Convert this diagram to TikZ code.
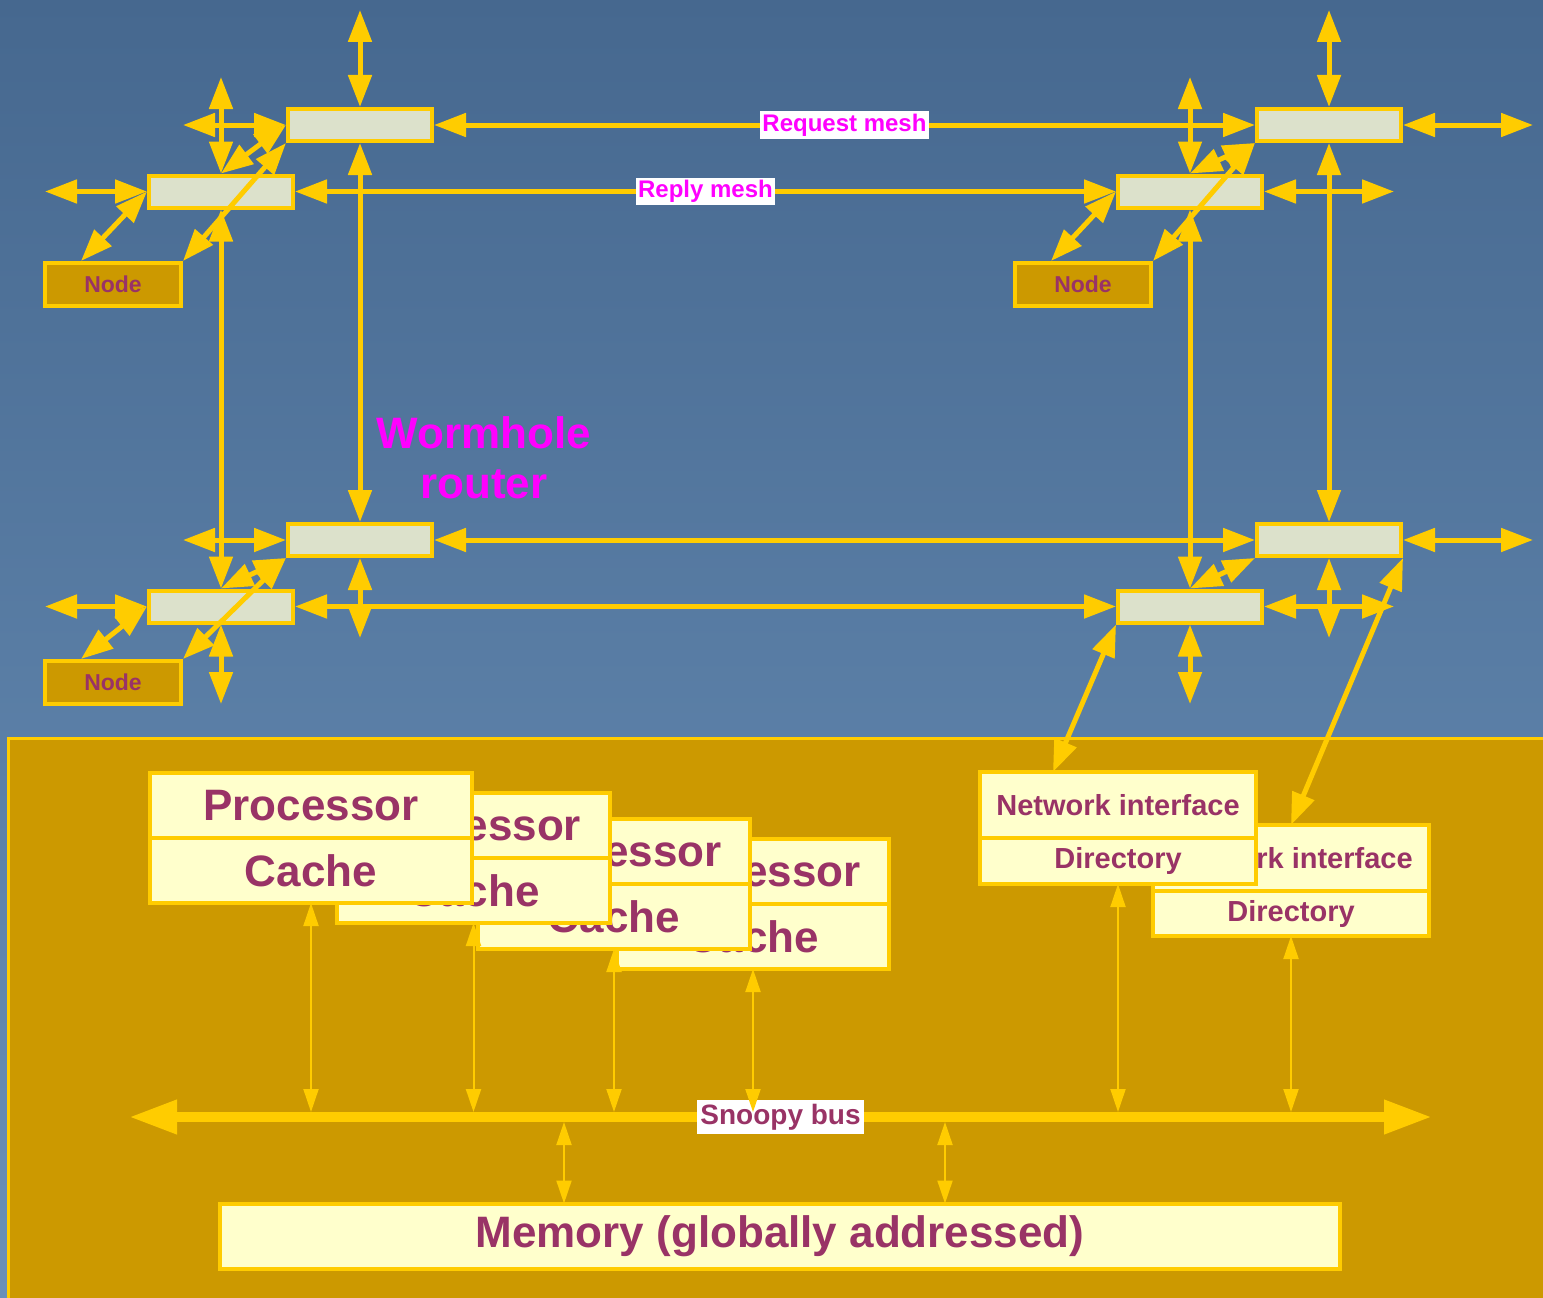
\documentclass[tikz,border=0pt]{standalone}
\usepackage{fontspec}
\setmainfont{Liberation Sans}
\usetikzlibrary{arrows.meta,calc}

\definecolor{meshyellow}{HTML}{FFCC00}
\definecolor{routerfill}{HTML}{DCE1CB}
\definecolor{nodefill}{HTML}{CC9900}
\definecolor{boxfill}{HTML}{FFFFCC}
\definecolor{textpurple}{HTML}{993366}
\definecolor{labelpink}{HTML}{FF00FF}
\definecolor{bgtop}{HTML}{46688F}
\definecolor{bgbottom}{HTML}{6A90B8}

\tikzset{
	router/.style = {draw = meshyellow, line width = 4pt, fill = routerfill, minimum width = 144pt, minimum height = 32pt, inner sep = 0pt},
	endnode/.style = {draw = meshyellow, line width = 4pt, fill = nodefill, minimum width = 136pt, minimum height = 43pt, inner sep = 0pt, text = textpurple, font = \fontsize{23}{26}\selectfont\bfseries},
	cpart/.style = {draw = meshyellow, line width = 4pt, fill = boxfill, minimum width = #1, minimum height = 65pt, inner sep = 0pt, outer sep = 0pt, text = textpurple, font = \fontsize{44}{48}\selectfont\bfseries},
	npart/.style = {draw = meshyellow, line width = 4pt, fill = boxfill, minimum width = 276pt, inner sep = 0pt, outer sep = 0pt, text = textpurple, font = \fontsize{29}{32}\selectfont\bfseries},
	mesh/.style = {draw = meshyellow, line width = 5pt, {Triangle[length = 32pt, width = 23pt]}-{Triangle[length = 32pt, width = 23pt]}},
	busarrow/.style = {draw = meshyellow, line width = 2pt, {Triangle[length = 23pt, width = 15pt]}-{Triangle[length = 23pt, width = 15pt]}},
	meshlabel/.style = {fill = white, text = labelpink, inner sep = 2.5pt, font = \fontsize{24}{26}\selectfont\bfseries}
}

\begin{document}
\begin{tikzpicture} [x = 1pt, y = -1pt]
	\useasboundingbox (0,0) rectangle (1543,1298);
	\shade [top color = bgtop, bottom color = bgbottom] (0,0) rectangle (1543,1298);
	\draw [fill = nodefill, draw = meshyellow, line width = 3pt] (8,738) rectangle (1560,1310);

	% processor stack, back to front
	\node [cpart = 272pt] (proc4) at (753,871.5) {Processor};
	\node [cpart = 272pt, anchor = north] (cache4) at (proc4.south) {Cache};
	\node [cpart = 272pt] (proc3) at (614,851.5) {Processor};
	\node [cpart = 272pt, anchor = north] (cache3) at (proc3.south) {Cache};
	\node [cpart = 273pt] (proc2) at (473.5,825.5) {Processor};
	\node [cpart = 273pt, anchor = north] (cache2) at (proc2.south) {Cache};
	\node [cpart = 322pt] (proc1) at (311,805.5) {Processor};
	\node [cpart = 322pt, anchor = north] (cache1) at (proc1.south) {Cache};

	\node [npart, minimum height = 66pt] (ni2) at (1291,858) {Network interface};
	\node [npart, minimum height = 45pt, anchor = north] (dir2) at (ni2.south) {Directory};
	\node [npart, minimum height = 66pt] (ni1) at (1118,805) {Network interface};
	\node [npart, minimum height = 46pt, anchor = north] (dir1) at (ni1.south) {Directory};

	\node [cpart = 1120pt] (mem) at (780,1236) {Memory (globally addressed)};

	\coordinate (busL) at (129,1117);
	\coordinate (busR) at (1432,1117);
	\draw [draw = meshyellow, line width = 10pt, {Triangle[length = 48pt, width = 32pt]}-{Triangle[length = 48pt, width = 32pt]}] (busL) -- (busR) node [midway, fill = white, text = textpurple, inner sep = 3.5pt, font = \fontsize{28}{30}\selectfont\bfseries] (buslabel) {Snoopy bus};

	\coordinate (bustop) at (0,1112);
	\coordinate (memtapA) at (564,1122);
	\coordinate (memtapB) at (945,1122);
	\draw [busarrow] (cache1.south) -- (cache1.south |- bustop);
	\draw [busarrow] (cache2.south) -- (cache2.south |- bustop);
	\draw [busarrow] (cache3.south) -- (cache3.south |- bustop);
	\draw [busarrow] (cache4.south) -- (cache4.south |- bustop);
	\draw [busarrow] (dir1.south) -- (dir1.south |- bustop);
	\draw [busarrow] (dir2.south) -- (dir2.south |- bustop);
	\draw [busarrow] (memtapA) -- (memtapA |- mem.north);
	\draw [busarrow] (memtapB) -- (memtapB |- mem.north);

	% wormhole routers and nodes
	\node [router] (reqTL) at (360,125) {};
	\node [router] (repTL) at (221,191.5) {};
	\node [router] (reqTR) at (1329,125) {};
	\node [router] (repTR) at (1190,191.5) {};
	\node [router] (reqBL) at (360,540) {};
	\node [router] (repBL) at (221,606.5) {};
	\node [router] (reqBR) at (1329,540) {};
	\node [router] (repBR) at (1190,606.5) {};
	\node [endnode] (nodeTL) at (113,284.5) {Node};
	\node [endnode] (nodeTR) at (1083,284.5) {Node};
	\node [endnode] (nodeBL) at (113,682.5) {Node};

	\node [text = labelpink, align = center, inner sep = 0pt, font = \fontsize{44}{50}\selectfont\bfseries] (wormlabel) at (484,458) {Wormhole\\router};

	\coordinate (tlA) at (360,10);
	\coordinate (tlB) at (221,77);
	\coordinate (tlC) at (183,125);
	\coordinate (tlD) at (45,191.5);
	\coordinate (trA) at (1329,10);
	\coordinate (trB) at (1190,77);
	\coordinate (trC) at (1533,125);
	\coordinate (trD) at (1394,191.5);
	\coordinate (blA) at (183,540);
	\coordinate (blB) at (45,606.5);
	\coordinate (blC) at (221,704);
	\coordinate (blD) at (360,638);
	\coordinate (brA) at (1533,540);
	\coordinate (brB) at (1394,606.5);
	\coordinate (brC) at (1329,638);
	\coordinate (brD) at (1190,704);

	\draw [mesh] (reqTL.east) -- (reqTR.west) node [meshlabel, midway] (reqlabel) {Request mesh};
	\draw [mesh] (repTL.east) -- (repTR.west) node [meshlabel, midway] (replabel) {Reply mesh};
	\draw [mesh] (reqBL.east) -- (reqBR.west);
	\draw [mesh] (repBL.east) -- (repBR.west);
	\draw [mesh] (reqTL.south) -- (reqBL.north);
	\draw [mesh] (repTL.south) -- (repBL.north);
	\draw [mesh] (reqTR.south) -- (reqBR.north);
	\draw [mesh] (repTR.south) -- (repBR.north);

	\draw [mesh] (tlA) -- (reqTL.north);
	\draw [mesh] (tlB) -- (repTL.north);
	\draw [mesh] (tlC) -- (reqTL.west);
	\draw [mesh] (tlD) -- (repTL.west);
	\draw [mesh] (repTL.north) -- (reqTL.west);
	\draw [mesh] (nodeTL.north east) -- (reqTL.south west);
	\draw [mesh] ([xshift = 38pt] nodeTL.north west) -- (repTL.west);

	\draw [mesh] (trA) -- (reqTR.north);
	\draw [mesh] (trB) -- (repTR.north);
	\draw [mesh] (reqTR.east) -- (trC);
	\draw [mesh] (repTR.east) -- (trD);
	\draw [mesh] (repTR.north) -- (reqTR.south west);
	\draw [mesh] (nodeTR.north east) -- (reqTR.south west);
	\draw [mesh] ([xshift = 38pt] nodeTR.north west) -- (repTR.west);

	\draw [mesh] (blA) -- (reqBL.west);
	\draw [mesh] (blB) -- (repBL.west);
	\draw [mesh] (repBL.south) -- (blC);
	\draw [mesh] (reqBL.south) -- (blD);
	\draw [mesh] (repBL.north) -- (reqBL.south west);
	\draw [mesh] (nodeBL.north east) -- (reqBL.south west);
	\draw [mesh] ([xshift = 38pt] nodeBL.north west) -- (repBL.west);

	\draw [mesh] (reqBR.east) -- (brA);
	\draw [mesh] (repBR.east) -- (brB);
	\draw [mesh] (reqBR.south) -- (brC);
	\draw [mesh] (repBR.south) -- (brD);
	\draw [mesh] (repBR.north) -- (reqBR.south west);
	\draw [mesh] (repBR.south west) -- ([xshift = 73pt] ni1.north west);
	\draw [mesh] (reqBR.south east) -- (ni2.north);
\end{tikzpicture}
\end{document}
